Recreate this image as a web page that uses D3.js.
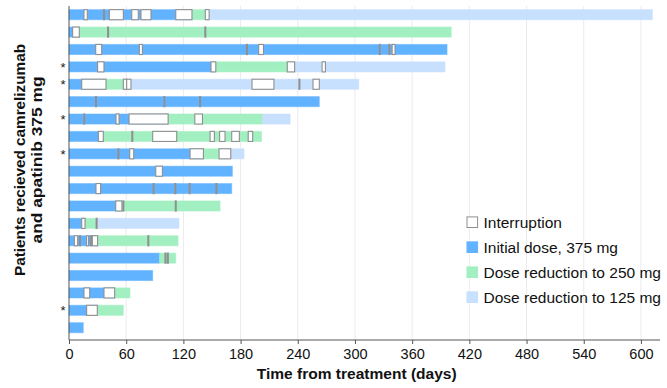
<!DOCTYPE html>
<html>
<head>
<meta charset="utf-8">
<script src="https://cdn.jsdelivr.net/npm/d3@7"></script>
<style>
  body { margin: 0; background: #fff; }
  svg { display: block; font-family: "Liberation Sans", Arial, sans-serif; }
</style>
</head>
<body>
<svg id="chart" width="667" height="388"></svg>
<script>
// One row per patient, top to bottom
const patients = d3.range(1, 20);
const starred = [4, 5, 7, 9, 18];
// Day the 250 mg reduction begins (null = never)
const reduce250 = [129, 10.8, null, 152, 38.8, null, 104, 33, 141, null, null, 53, 16.8, 30, 95, null, 48, 29.7, null];
// Day the 125 mg reduction begins (null = never)
const reduce125 = [143, null, null, 233, 60.5, null, 203, null, 163, null, null, null, 29, null, null, null, null, null, null];
// Last day on treatment
const endDay = [612, 401, 396.6, 394.5, 304, 262.6, 232, 202, 183.6, 171.4, 170.7, 158.5, 115.4, 114.4, 112, 87.8, 64, 57, 15];
// Treatment interruptions: [patient, start day, end day]
const interruptions = [
  [1, 15.7, 19.2], [1, 36.2, 37.2], [1, 42.3, 57], [1, 65.8, 72.7], [1, 75.5, 86], [1, 112, 129], [1, 143, 147],
  [2, 3.8, 10.8], [2, 40.5, 41.5], [2, 142.5, 143.5],
  [3, 28, 34.3], [3, 73.8, 77], [3, 186.2, 187.2], [3, 199, 204], [3, 325.5, 326.5], [3, 335.5, 336.5], [3, 339, 342],
  [4, 30, 36.7], [4, 149, 154], [4, 229, 236.7], [4, 265.5, 269],
  [5, 13.3, 38.8], [5, 57, 60.5], [5, 60.5, 65], [5, 192, 215], [5, 241.2, 242.2], [5, 256, 262.6],
  [6, 27.8, 28.8], [6, 99.5, 100.5], [6, 137, 138],
  [7, 15.5, 16.5], [7, 49.3, 52.5], [7, 63, 104], [7, 132, 140],
  [8, 30.8, 36], [8, 65.9, 66.9], [8, 87.8, 113], [8, 148, 152.5], [8, 158, 163.7], [8, 170.7, 178.7], [8, 188, 192.7],
  [9, 51.3, 52.3], [9, 63.7, 67.9], [9, 127, 141], [9, 157.4, 169.7],
  [10, 91, 98],
  [11, 28.3, 33.2], [11, 88.3, 89.3], [11, 111, 112], [11, 126.1, 127.1], [11, 154.1, 155.1],
  [12, 49, 55.5], [12, 56.5, 57.5], [12, 111.5, 112.5],
  [13, 13.3, 16.8], [13, 28.5, 29.5],
  [14, 5.6, 9.1], [14, 11, 12], [14, 18.5, 20.6], [14, 22.5, 23.5], [14, 24.5, 30], [14, 82.7, 83.7],
  [15, 100.7, 101.7], [15, 103.2, 104.2],
  [17, 15.7, 21.7], [17, 36.7, 47.9],
  [18, 18.5, 29.7]
];
const xTicks = [0, 60, 120, 180, 240, 300, 360, 420, 480, 540, 600];
const legendLabels = ["Interruption", "Initial dose, 375 mg", "Dose reduction to 250 mg", "Dose reduction to 125 mg"];

const colors = { d375: "#62b3ff", d250: "#a2f0c1", d125: "#c7e0fd" };
const legendFills = ["#ffffff", colors.d375, colors.d250, colors.d125];

const svg = d3.select("#chart");
const x = d3.scaleLinear().domain([0, 620]).range([69, 660]);
const y = d3.scaleBand().domain(patients).range([6, 336.4]).paddingInner(0.42).paddingOuter(0.21);

// vertical grid
svg.append("g").selectAll("line").data(xTicks.slice(1)).join("line")
  .attr("x1", d => x(d)).attr("x2", d => x(d))
  .attr("y1", 6).attr("y2", 340)
  .attr("stroke", "#ebebeb").attr("stroke-width", 1);

// dose phase segments built from the reduction days
const segments = [];
patients.forEach((p, i) => {
  const r250 = reduce250[i], r125 = reduce125[i], end = endDay[i];
  const blueEnd = r250 != null ? r250 : (r125 != null ? r125 : end);
  segments.push({ p, s: 0, e: blueEnd, c: colors.d375 });
  if (r250 != null) segments.push({ p, s: r250, e: r125 != null ? r125 : end, c: colors.d250 });
  if (r125 != null) segments.push({ p, s: r125, e: end, c: colors.d125 });
});

svg.append("g").selectAll("rect").data(segments).join("rect")
  .attr("x", d => x(d.s))
  .attr("width", d => x(d.e) - x(d.s))
  .attr("y", d => y(d.p))
  .attr("height", y.bandwidth())
  .attr("fill", d => d.c)
  .attr("stroke", d => d.c)
  .attr("stroke-opacity", 0.5)
  .attr("stroke-width", 1);

svg.append("g").selectAll("rect").data(interruptions).join("rect")
  .attr("x", d => x(d[1]))
  .attr("width", d => Math.max(x(d[2]) - x(d[1]), 0.6))
  .attr("y", d => y(d[0]))
  .attr("height", y.bandwidth())
  .attr("fill", "#ffffff")
  .attr("stroke", "#8f8f8f")
  .attr("stroke-width", 1.1);

// stars for flagged patients
svg.append("g").selectAll("text").data(starred).join("text")
  .attr("x", 63).attr("y", d => y(d) + y.bandwidth() / 2 + 5)
  .attr("text-anchor", "middle")
  .attr("font-size", 13).attr("fill", "#222")
  .text("*");

// axes
const xAxis = svg.append("g").attr("transform", "translate(0,340)")
  .call(d3.axisBottom(x).tickValues(xTicks).tickSize(4).tickSizeOuter(0));
xAxis.select(".domain").attr("stroke", "#555").attr("d", `M${x(0)},0H660`);
xAxis.selectAll(".tick line").attr("stroke", "#555");
xAxis.selectAll(".tick text").attr("font-size", 14.5).attr("fill", "#111").attr("dy", "0.8em")
  .attr("font-family", "Liberation Sans, Arial, sans-serif");

svg.append("line").attr("x1", x(0)).attr("x2", x(0)).attr("y1", 6).attr("y2", 340)
  .attr("stroke", "#555").attr("stroke-width", 1);

svg.append("text")
  .attr("x", 356.7).attr("y", 379)
  .attr("text-anchor", "middle")
  .attr("font-size", 14.5).attr("font-weight", "bold").attr("fill", "#111")
  .attr("textLength", 200).attr("lengthAdjust", "spacingAndGlyphs")
  .text("Time from treatment (days)");

const yTitle = svg.append("g").attr("transform", "translate(24.5,160) rotate(-90)")
  .attr("font-size", 15).attr("font-weight", "bold").attr("fill", "#111");
yTitle.append("text").attr("x", 0).attr("y", 0).attr("text-anchor", "middle")
  .attr("textLength", 232).attr("lengthAdjust", "spacingAndGlyphs")
  .text("Patients recieved camrelizumab");
yTitle.append("text").attr("x", 0).attr("y", 17.5).attr("text-anchor", "middle")
  .attr("textLength", 167).attr("lengthAdjust", "spacingAndGlyphs")
  .text("and apatinib 375 mg");

// legend
const legend = svg.append("g").attr("transform", "translate(467,222.2)");
const items = legend.selectAll("g").data(legendLabels).join("g")
  .attr("transform", (d, i) => `translate(0,${i * 25})`);
items.append("rect")
  .attr("x", 0).attr("y", -5.3).attr("width", 10.6).attr("height", 10.6)
  .attr("fill", (d, i) => legendFills[i])
  .attr("stroke", (d, i) => i === 0 ? "#8f8f8f" : legendFills[i]);
items.append("text")
  .attr("x", 16.5).attr("y", 0).attr("dy", "0.36em")
  .attr("font-size", 15.5).attr("fill", "#111")
  .text(d => d);
</script>
</body>
</html>
